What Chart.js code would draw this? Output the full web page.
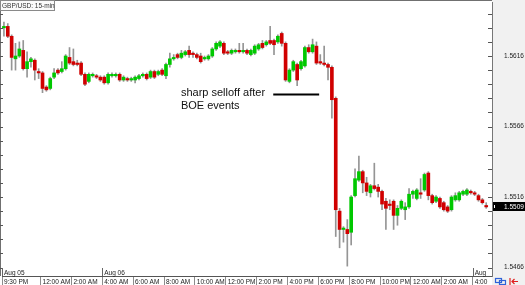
<!DOCTYPE html>
<html>
<head>
<meta charset="utf-8">
<title>GBP/USD 15-min</title>
<script src="https://cdn.jsdelivr.net/npm/chart.js@4.4.1/dist/chart.umd.min.js"></script>
<style>
  html, body { margin: 0; padding: 0; background: #fff; }
  #wrap { width: 525px; height: 285px; position: relative; }
</style>
</head>
<body>
<div id="wrap"><canvas id="fxChart"></canvas></div>
<script>
// GBP/USD 15-min candles, first bar = 9:30 PM
const opens = [
  1.5636,1.5637,1.5630,1.5614,1.5616,1.5620,1.5607,1.5612,1.5613,1.5605,
  1.5604,1.5594,1.5593,1.5601,1.5606,1.5605,1.5607,1.5615,1.5612,1.5611,
  1.5611,1.5603,1.5598,1.5602,1.5602,1.5601,1.5601,1.5597,1.5602,1.5602,
  1.5603,1.5599,1.5600,1.5599,1.5599,1.5600,1.5602,1.5603,1.5601,1.5605,
  1.5603,1.5606,1.5602,1.5610,1.5614,1.5617,1.5615,1.5617,1.5620,1.5618,
  1.5617,1.5616,1.5614,1.5614,1.5616,1.5621,1.5623,1.5625,1.5619,1.5618,
  1.5619,1.5620,1.5619,1.5620,1.5617,1.5618,1.5621,1.5625,1.5624,1.5627,
  1.5627,1.5626,1.5632,1.5625,1.5598,1.5606,1.5610,1.5607,1.5609,1.5622,
  1.5619,1.5623,1.5612,1.5611,1.5610,1.5608,1.5586,1.5506,1.5493,1.5493,
  1.5491,1.5517,1.5528,1.5534,1.5526,1.5519,1.5524,1.5523,1.5520,1.5513,
  1.5511,1.5513,1.5503,1.5508,1.5507,1.5509,1.5518,1.5515,1.5519,1.5521,
  1.5533,1.5517,1.5513,1.5515,1.5512,1.5509,1.5507,1.5514,1.5514,1.5518,
  1.5518,1.5520,1.5519,1.5517,1.5514,1.5510
];
const highs = [
  1.5640,1.5639,1.5631,1.5625,1.5626,1.5627,1.5619,1.5615,1.5614,1.5607,
  1.5605,1.5595,1.5601,1.5607,1.5607,1.5612,1.5617,1.5622,1.5621,1.5613,
  1.5612,1.5604,1.5604,1.5604,1.5603,1.5602,1.5602,1.5604,1.5604,1.5604,
  1.5604,1.5602,1.5601,1.5601,1.5602,1.5603,1.5604,1.5604,1.5606,1.5606,
  1.5606,1.5607,1.5611,1.5618,1.5617,1.5618,1.5620,1.5620,1.5623,1.5619,
  1.5618,1.5618,1.5616,1.5617,1.5622,1.5626,1.5627,1.5626,1.5620,1.5621,
  1.5621,1.5625,1.5625,1.5621,1.5621,1.5624,1.5625,1.5627,1.5627,1.5637,
  1.5628,1.5631,1.5633,1.5626,1.5607,1.5613,1.5611,1.5613,1.5623,1.5624,
  1.5628,1.5626,1.5617,1.5623,1.5611,1.5609,1.5587,1.5508,1.5495,1.5500,
  1.5517,1.5536,1.5545,1.5535,1.5530,1.5525,1.5540,1.5525,1.5521,1.5515,
  1.5514,1.5514,1.5510,1.5514,1.5512,1.5522,1.5521,1.5522,1.5529,1.5533,
  1.5534,1.5518,1.5517,1.5516,1.5513,1.5510,1.5517,1.5519,1.5520,1.5521,
  1.5522,1.5521,1.5520,1.5518,1.5515,1.5512
];
const lows = [
  1.5630,1.5629,1.5606,1.5606,1.5615,1.5606,1.5601,1.5608,1.5599,1.5600,
  1.5590,1.5591,1.5592,1.5600,1.5603,1.5604,1.5606,1.5610,1.5609,1.5609,
  1.5602,1.5595,1.5597,1.5601,1.5600,1.5598,1.5596,1.5596,1.5601,1.5601,
  1.5598,1.5598,1.5598,1.5598,1.5597,1.5599,1.5601,1.5599,1.5600,1.5600,
  1.5602,1.5602,1.5600,1.5608,1.5613,1.5614,1.5614,1.5616,1.5615,1.5615,
  1.5614,1.5611,1.5613,1.5613,1.5615,1.5620,1.5622,1.5617,1.5617,1.5617,
  1.5618,1.5618,1.5618,1.5617,1.5616,1.5617,1.5620,1.5621,1.5623,1.5624,
  1.5617,1.5625,1.5623,1.5598,1.5597,1.5605,1.5595,1.5606,1.5608,1.5618,
  1.5618,1.5610,1.5610,1.5609,1.5599,1.5572,1.5488,1.5480,1.5484,1.5467,
  1.5482,1.5516,1.5527,1.5519,1.5517,1.5516,1.5521,1.5516,1.5507,1.5493,
  1.5507,1.5493,1.5496,1.5507,1.5500,1.5508,1.5515,1.5514,1.5515,1.5520,
  1.5514,1.5511,1.5512,1.5508,1.5506,1.5505,1.5506,1.5513,1.5513,1.5517,
  1.5517,1.5518,1.5517,1.5513,1.5511,1.5508
];
const closes = [
  1.5637,1.5630,1.5615,1.5616,1.5621,1.5607,1.5612,1.5614,1.5606,1.5604,
  1.5593,1.5592,1.5600,1.5604,1.5604,1.5607,1.5616,1.5611,1.5610,1.5610,
  1.5603,1.5596,1.5603,1.5603,1.5601,1.5599,1.5597,1.5603,1.5603,1.5603,
  1.5599,1.5601,1.5599,1.5600,1.5601,1.5602,1.5603,1.5600,1.5605,1.5601,
  1.5605,1.5603,1.5610,1.5614,1.5615,1.5615,1.5618,1.5619,1.5617,1.5617,
  1.5615,1.5612,1.5615,1.5616,1.5621,1.5625,1.5626,1.5618,1.5618,1.5620,
  1.5620,1.5619,1.5620,1.5618,1.5620,1.5623,1.5624,1.5622,1.5626,1.5625,
  1.5624,1.5630,1.5625,1.5599,1.5606,1.5612,1.5599,1.5612,1.5622,1.5619,
  1.5624,1.5611,1.5611,1.5610,1.5608,1.5585,1.5507,1.5493,1.5494,1.5490,
  1.5516,1.5529,1.5534,1.5526,1.5520,1.5524,1.5522,1.5520,1.5511,1.5508,
  1.5510,1.5503,1.5508,1.5513,1.5509,1.5518,1.5520,1.5521,1.5518,1.5532,
  1.5517,1.5512,1.5516,1.5509,1.5507,1.5506,1.5516,1.5517,1.5519,1.5520,
  1.5521,1.5519,1.5518,1.5514,1.5512,1.5509
];

// one slot per candle plus an empty one on the right
const categories = Array.from({ length: opens.length + 1 }, (_, i) => i);

// bottom axis labels: candle index -> text
const timeTickIdx = [0, 10, 18, 26, 34, 42, 50, 58, 66, 74, 82, 90, 98, 106, 114, 122];
const timeTickLabels = ['9:30 PM', '12:00 AM', '2:00 AM', '4:00 AM', '6:00 AM', '8:00 AM',
  '10:00 AM', '12:00 PM', '2:00 PM', '4:00 PM', '6:00 PM', '8:00 PM', '10:00 PM',
  '12:00 AM', '2:00 AM', '4:00'];
const dateIdx = [0, 26, 122];
const dateLabels = ['Aug 05', 'Aug 06', 'Aug'];

// right axis
const priceTicks = [1.5466, 1.5476, 1.5486, 1.5496, 1.5506, 1.5516, 1.5526, 1.5536, 1.5546, 1.5556,
  1.5566, 1.5576, 1.5586, 1.5596, 1.5606, 1.5616, 1.5626, 1.5636, 1.5646];
const priceTickLabels = ['1.5466', '', '', '', '', '1.5516', '', '', '', '',
  '1.5566', '', '', '', '', '1.5616', '', '', ''];

const note = ['sharp selloff after', 'BOE events'];
const noteIdx = 46, noteLineFrom = 69.8, noteLineTo = 81.7, notePrice = 1.5589;

const UP = '#00c800', DOWN = '#d00000', WICK = '#959595';
const smallFont = "6.5px 'Liberation Sans', Arial, sans-serif";

const chrome = {
  id: 'chrome',
  beforeDraw(chart) {
    const { ctx, chartArea: a, width, height } = chart;
    ctx.save();
    ctx.fillStyle = '#ffffff';
    ctx.fillRect(0, 0, width, height);
    ctx.fillStyle = '#f1f1f1';
    ctx.fillRect(a.right, 0, width - a.right, height);
    ctx.restore();
  },
  afterDraw(chart) {
    const { ctx, chartArea: a, width } = chart;
    const xs = chart.scales.x, ys = chart.scales.y;
    const slot = xs.getPixelForValue(1) - xs.getPixelForValue(0);
    ctx.save();

    // frame top / left
    ctx.strokeStyle = '#707070';
    ctx.lineWidth = 1;
    ctx.beginPath();
    ctx.moveTo(0, 0.5); ctx.lineTo(a.right, 0.5);
    ctx.moveTo(0.5, 0); ctx.lineTo(0.5, a.bottom);
    ctx.stroke();

    // price tick marks on both sides
    ctx.strokeStyle = '#555';
    ctx.beginPath();
    priceTicks.forEach(v => {
      const y = Math.round(ys.getPixelForValue(v)) + 0.5;
      ctx.moveTo(a.right - 4, y); ctx.lineTo(a.right, y);
      ctx.moveTo(0, y); ctx.lineTo(3, y);
    });
    ctx.stroke();

    // date marks above the time axis
    ctx.font = smallFont;
    ctx.fillStyle = '#222';
    ctx.textBaseline = 'alphabetic';
    ctx.textAlign = 'left';
    dateIdx.forEach((idx, k) => {
      const x = xs.getPixelForValue(idx);
      const sx = Math.round(x - slot / 2) + 0.5;
      ctx.beginPath();
      ctx.strokeStyle = '#666';
      ctx.moveTo(sx, a.bottom - 8); ctx.lineTo(sx, a.bottom);
      ctx.stroke();
      ctx.fillText(dateLabels[k], x, a.bottom - 1.5);
    });

    // symbol box
    ctx.fillStyle = '#fafafa';
    ctx.fillRect(0, 0, 55, 11);
    ctx.strokeStyle = '#8a8a8a';
    ctx.strokeRect(0.5, 0.5, 54, 10);
    ctx.fillStyle = '#333';
    ctx.textBaseline = 'middle';
    ctx.fillText('GBP/USD: 15-min', 2, 6);

    // current price box
    const last = closes[closes.length - 1];
    const py = ys.getPixelForValue(last);
    ctx.fillStyle = '#000';
    ctx.fillRect(a.right + 1, Math.round(py - 4.5), width - a.right - 1, 9);
    ctx.fillStyle = '#fff';
    ctx.fillText(last.toFixed(4), a.right + 12, py + 0.5);
    ctx.fillRect(a.right + 2, Math.round(py) - 2, 1, 3);

    // annotation
    const ly = Math.round(ys.getPixelForValue(notePrice)) + 0.5;
    ctx.strokeStyle = '#000';
    ctx.lineWidth = 2;
    ctx.beginPath();
    ctx.moveTo(xs.getPixelForValue(noteLineFrom), ly);
    ctx.lineTo(xs.getPixelForValue(noteLineTo), ly);
    ctx.stroke();
    ctx.fillStyle = '#111';
    ctx.font = "11px 'Liberation Sans', Arial, sans-serif";
    ctx.textBaseline = 'alphabetic';
    const tx = xs.getPixelForValue(noteIdx) - 0.5;
    ctx.fillText(note[0], tx, ly + 1.3);
    ctx.fillText(note[1], tx, ly + 14);

    // little toolbar icons, bottom right
    ctx.lineWidth = 1.2;
    ctx.strokeStyle = '#2f62d8';
    ctx.strokeRect(495.5, 278.5, 6, 4);
    ctx.strokeRect(499.5, 280.5, 6, 4);
    ctx.strokeStyle = '#e02020';
    ctx.beginPath();
    ctx.moveTo(510, 278); ctx.lineTo(510, 285);
    ctx.moveTo(518, 281.5); ctx.lineTo(512, 281.5);
    ctx.moveTo(514.5, 279); ctx.lineTo(512, 281.5); ctx.lineTo(514.5, 284);
    ctx.stroke();

    ctx.restore();
  }
};

new Chart(document.getElementById('fxChart'), {
  type: 'bar',
  data: {
    labels: categories,
    datasets: [
      {
        label: 'body',
        data: opens.map((o, i) => [Math.min(o, closes[i]), Math.max(o, closes[i])]),
        backgroundColor: opens.map((o, i) => closes[i] >= o ? UP : DOWN),
        borderWidth: 0,
        barThickness: 3,
        minBarLength: 1,
        grouped: false,
        order: 1
      },
      {
        label: 'wick',
        data: lows.map((l, i) => [l, highs[i]]),
        backgroundColor: WICK,
        borderWidth: 0,
        barThickness: 1,
        grouped: false,
        order: 2
      }
    ]
  },
  options: {
    responsive: true,
    maintainAspectRatio: false,
    animation: false,
    devicePixelRatio: 1,
    layout: { padding: { top: 2, left: 2, right: 0, bottom: 0 } },
    plugins: { legend: { display: false }, tooltip: { enabled: false } },
    scales: {
      x: {
        type: 'category',
        offset: true,
        grid: {
          drawOnChartArea: false,
          drawTicks: true,
          tickLength: 9,
          offset: true,
          color: c => (c.tick && timeTickIdx.includes(c.index)) ? '#8c8c8c' : 'rgba(0,0,0,0)'
        },
        border: { display: true, color: '#555', width: 1 },
        ticks: {
          autoSkip: false,
          maxRotation: 0,
          minRotation: 0,
          align: 'start',
          padding: -7,
          color: '#222',
          font: { family: "'Liberation Sans', Arial, sans-serif", size: 6.5 },
          callback: (v, i) => {
            const k = timeTickIdx.indexOf(i);
            return k < 0 ? '' : timeTickLabels[k];
          }
        },
        afterFit: s => { s.height = 9; s.paddingLeft = 0; s.paddingRight = 0; }
      },
      y: {
        position: 'right',
        min: 1.5460,
        max: 1.56543,
        afterBuildTicks: s => { s.ticks = priceTicks.map(v => ({ value: v })); },
        grid: { drawOnChartArea: false, drawTicks: false },
        border: { display: true, color: '#777', width: 1 },
        ticks: {
          padding: 12,
          color: '#222',
          font: { family: "'Liberation Sans', Arial, sans-serif", size: 6.5 },
          callback: (v, i) => priceTickLabels[i]
        },
        afterFit: s => { s.width = 33; s.paddingTop = 0; s.paddingBottom = 0; }
      }
    }
  },
  plugins: [chrome]
});
</script>
</body>
</html>
